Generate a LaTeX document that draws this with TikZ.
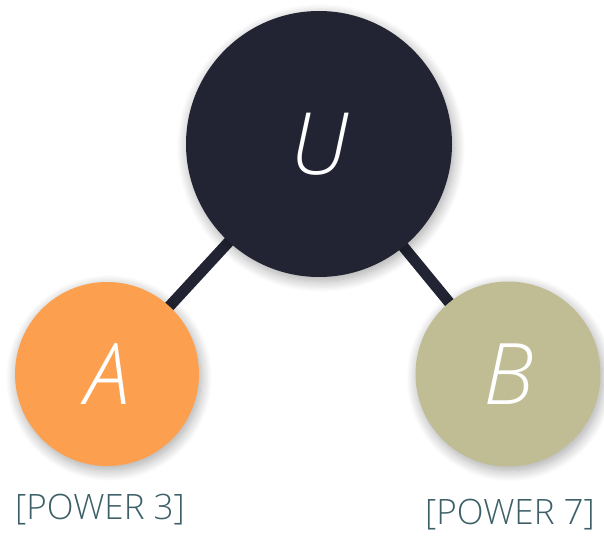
\documentclass[tikz,border=0pt]{standalone}
\usepackage{fontspec}
\setmainfont{Open Sans}[UprightFont=* Light, ItalicFont=* Light Italic]
\usetikzlibrary{shadows.blur,backgrounds}
\definecolor{navy}{HTML}{222433}
\definecolor{orangeA}{HTML}{FCA050}
\definecolor{khaki}{HTML}{C0BD94}
\definecolor{lbl}{HTML}{3D6068}
\tikzset{
  ball/.style={circle, inner sep=0pt, text=white,
    blur shadow={shadow xshift=2pt, shadow yshift=-4pt, shadow blur radius=11pt, shadow blur steps=14, shadow opacity=35}},
  big/.style={font=\fontsize{86}{90}\selectfont\itshape},
  mid/.style={font=\fontsize{85}{90}\selectfont\itshape},
  link/.style={draw=navy, line width=11pt},
  powerlbl/.style={text=lbl, font=\fontsize{35}{38}\selectfont, inner sep=0pt}
}
\begin{document}
\begin{tikzpicture}[x=1pt,y=1pt]
\useasboundingbox (0,0) rectangle (604,536);
\node[ball, big, fill=navy, minimum size=266pt] (U) at (319,392) {U};
\node[ball, mid, fill=orangeA, minimum size=184pt] (A) at (107,162) {A};
\node[ball, mid, fill=khaki, minimum size=185pt] (B) at (508,162) {B};
\begin{pgfonlayer}{background}
\draw[link] (U.center) -- (A.center);
\draw[link] (U.center) -- (B.center);
\end{pgfonlayer}
\node[powerlbl] (LA) at (100,26) {[POWER 3]};
\node[powerlbl] (LB) at (510,21) {[POWER 7]};
\end{tikzpicture}
\end{document}
